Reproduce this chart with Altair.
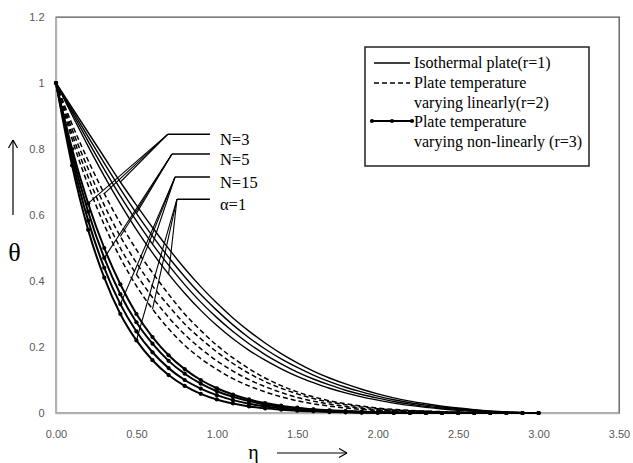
import altair as alt
import pandas as pd

# similarity variable eta
eta = [0.0, 0.1, 0.2, 0.3, 0.4, 0.5, 0.6, 0.7, 0.8, 0.9, 1.0,
       1.1, 1.2, 1.3, 1.4, 1.5, 1.6, 1.7, 1.8, 1.9, 2.0,
       2.1, 2.2, 2.3, 2.4, 2.5, 2.6, 2.7, 2.8, 2.9, 3.0]

case_labels = ["N=3", "N=5", "N=15", "α=1"]

# isothermal plate (r=1)
theta_r1 = [
    [1.0, .925, .85, .775, .70, .63, .562, .498, .438, .383, .333, .288, .248, .212, .18, .152,
     .127, .106, .088, .072, .058, .046, .036, .028, .021, .015, .010, .006, .003, .001, 0.0],
    [1.0, .918, .837, .757, .679, .605, .536, .472, .413, .359, .311, .267, .228, .194, .164, .138,
     .115, .095, .078, .064, .051, .040, .031, .024, .018, .013, .009, .005, .003, .001, 0.0],
    [1.0, .911, .823, .738, .657, .582, .512, .448, .389, .336, .289, .247, .210, .177, .149, .124,
     .103, .085, .069, .056, .045, .035, .027, .020, .015, .011, .007, .004, .002, .001, 0.0],
    [1.0, .903, .808, .718, .634, .556, .485, .421, .363, .311, .265, .225, .190, .160, .134, .111,
     .092, .075, .061, .049, .039, .030, .023, .017, .012, .008, .005, .003, .002, .001, 0.0],
]

# plate temperature varying linearly (r=2)
theta_r2 = [
    [1.0, .875, .765, .665, .575, .495, .425, .36, .30, .25, .205, .167, .134, .106, .083, .064,
     .049, .037, .028, .021, .015, .011, .008, .006, .004, .003, .002, .001, .001, 0.0, 0.0],
    [1.0, .86, .74, .63, .535, .455, .385, .325, .27, .225, .185, .15, .12, .095, .075, .058,
     .044, .033, .025, .018, .013, .009, .007, .005, .003, .002, .001, .001, 0.0, 0.0, 0.0],
    [1.0, .845, .715, .60, .50, .42, .35, .29, .238, .195, .158, .127, .101, .08, .062, .047,
     .036, .027, .02, .014, .01, .007, .005, .004, .003, .002, .001, 0.0, 0.0, 0.0, 0.0],
    [1.0, .83, .69, .57, .47, .385, .315, .255, .205, .165, .132, .104, .082, .064, .049, .037,
     .028, .021, .015, .011, .008, .006, .004, .003, .002, .001, .001, 0.0, 0.0, 0.0, 0.0],
]

# plate temperature varying non-linearly (r=3)
theta_r3 = [
    [1.0, .80, .635, .50, .39, .30, .23, .175, .133, .10, .075, .056, .041, .03, .022, .016,
     .011, .008, .006, .004, .003, .002, .001, .001, 0.0, 0.0, 0.0, 0.0, 0.0, 0.0, 0.0],
    [1.0, .785, .61, .47, .36, .275, .21, .158, .119, .089, .066, .049, .036, .026, .019, .014,
     .010, .007, .005, .003, .002, .001, .001, 0.0, 0.0, 0.0, 0.0, 0.0, 0.0, 0.0, 0.0],
    [1.0, .768, .583, .44, .33, .247, .184, .136, .10, .074, .054, .039, .028, .02, .014, .010,
     .007, .005, .003, .002, .001, .001, 0.0, 0.0, 0.0, 0.0, 0.0, 0.0, 0.0, 0.0, 0.0],
    [1.0, .75, .555, .41, .30, .22, .16, .115, .082, .058, .041, .029, .02, .014, .01, .007,
     .005, .003, .002, .001, .001, 0.0, 0.0, 0.0, 0.0, 0.0, 0.0, 0.0, 0.0, 0.0, 0.0],
]

# label anchors (eta, theta) and the eta index where each leader meets r=1, r=2, r=3 curves
label_anchor_eta = [0.696, 0.721, 0.740, 0.752]
label_anchor_theta = [0.845, 0.785, 0.715, 0.648]
label_end_eta = 0.957
leader_index = [[4, 3, 2], [5, 4, 3], [6, 5, 4], [7, 6, 5]]

x_ticks = [0.0, 0.5, 1.0, 1.5, 2.0, 2.5, 3.0, 3.5]
y_ticks = [0.0, 0.2, 0.4, 0.6, 0.8, 1.0, 1.2]


def long_table(family):
    rows = []
    for k, series in enumerate(family):
        for e, t in zip(eta, series):
            rows.append({"eta": e, "theta": t, "curve": case_labels[k]})
    return pd.DataFrame(rows)


df1 = long_table(theta_r1)
df2 = long_table(theta_r2)
df3 = long_table(theta_r3)

leader_rows, hline_rows = [], []
for k in range(4):
    ax, ay = label_anchor_eta[k], label_anchor_theta[k]
    hline_rows.append({"x": ax, "x2": label_end_eta, "y": ay, "label": case_labels[k]})
    for fam, idx in zip([theta_r1, theta_r2, theta_r3], leader_index[k]):
        leader_rows.append({"x": ax, "y": ay, "x2": eta[idx], "y2": fam[k][idx]})
leaders = pd.DataFrame(leader_rows)
hlines = pd.DataFrame(hline_rows)

X = alt.X("eta:Q", scale=alt.Scale(domain=[0, 3.5], nice=False, zero=False),
          axis=alt.Axis(values=x_ticks, format=".2f", title="η", grid=False, ticks=False,
                        labelFlush=False, labelPadding=15, titleX=197, titleY=39,
                        titleAlign="center", titleBaseline="middle",
                        titleFont="Liberation Serif", titleFontSize=20,
                        titleFontWeight="normal", titleColor="black"))
Y = alt.Y("theta:Q", scale=alt.Scale(domain=[0, 1.2], nice=False),
          axis=alt.Axis(values=y_ticks, format="~g", title="θ", grid=False, ticks=False,
                        labelFlush=False, labelPadding=12, titleAngle=0, titleX=-42,
                        titleY=235, titleAlign="center", titleBaseline="middle",
                        titleFont="Liberation Serif", titleFontSize=26,
                        titleFontWeight="normal", titleColor="black"))

iso = alt.Chart(df1).mark_line(color="black", strokeWidth=1.4, interpolate="monotone").encode(
    x=X, y=Y, detail="curve:N")
lin = alt.Chart(df2).mark_line(color="black", strokeWidth=1.5, strokeDash=[5, 3],
                               interpolate="monotone").encode(x="eta:Q", y="theta:Q", detail="curve:N")
nonlin = alt.Chart(df3).mark_line(color="black", strokeWidth=2, interpolate="monotone").encode(
    x="eta:Q", y="theta:Q", detail="curve:N")
nonlin_pts = alt.Chart(df3).mark_circle(color="black", size=18, opacity=1).encode(
    x="eta:Q", y="theta:Q")

leader_layer = alt.Chart(leaders).mark_rule(color="black", strokeWidth=1.1).encode(
    x="x:Q", y="y:Q", x2="x2:Q", y2="y2:Q")
hline_layer = alt.Chart(hlines).mark_rule(color="black", strokeWidth=1.5).encode(
    x="x:Q", x2="x2:Q", y="y:Q")
label_layer = alt.Chart(hlines).mark_text(align="left", baseline="top", dx=10, dy=-2,
                                          font="Liberation Serif", fontSize=16.5,
                                          color="black").encode(
    x="x2:Q", y="y:Q", text="label:N")

one = pd.DataFrame({"k": [0]})


def rule(x, y, x2=None, y2=None, width=1.2, dash=None):
    enc = {"x": alt.value(x), "y": alt.value(y)}
    if x2 is not None:
        enc["x2"] = alt.value(x2)
    if y2 is not None:
        enc["y2"] = alt.value(y2)
    kw = {"color": "black", "strokeWidth": width}
    if dash:
        kw["strokeDash"] = dash
    return alt.Chart(one).mark_rule(**kw).encode(**enc)


def text(x, y, s, size=16):
    return alt.Chart(one).mark_text(align="left", baseline="middle", font="Liberation Serif",
                                    fontSize=size, color="black").encode(
        x=alt.value(x), y=alt.value(y), text=alt.value(s))


# legend box
legend_box = alt.Chart(one).mark_rect(fill="white", stroke="#222222", strokeWidth=1.5).encode(
    x=alt.value(309), x2=alt.value(533), y=alt.value(30), y2=alt.value(149))
legend_layers = [
    legend_box,
    rule(318, 46, x2=354, width=1.4),
    rule(318, 66, x2=354, width=1.5, dash=[5, 3]),
    rule(316, 104, x2=356, width=2),
    text(358, 46, "Isothermal plate(r=1)"),
    text(358, 66, "Plate temperature"),
    text(358, 86, "varying linearly(r=2)"),
    text(358, 105, "Plate temperature"),
    text(358, 125, "varying non-linearly (r=3)"),
]
for px in [316, 336, 356]:
    legend_layers.append(alt.Chart(one).mark_circle(color="black", size=18, opacity=1).encode(
        x=alt.value(px), y=alt.value(104)))

# direction arrows beside the axis titles
arrow_layers = [
    rule(-43, 198, y2=123, width=1.2),
    rule(-43, 123, x2=-47.5, y2=131, width=1.2),
    rule(-43, 123, x2=-38.5, y2=131, width=1.2),
    rule(221, 436, x2=291, width=1.2),
    rule(291, 436, x2=283, y2=431.5, width=1.2),
    rule(291, 436, x2=283, y2=440.5, width=1.2),
]

chart = alt.layer(
    iso, lin, nonlin, nonlin_pts, leader_layer, hline_layer, label_layer,
    *legend_layers, *arrow_layers
).properties(
    width=563, height=396,
    autosize=alt.AutoSizeParams(type="none"),
    padding={"left": 56, "top": 17, "right": 14, "bottom": 50},
    background="white",
).configure_view(
    stroke="#555555", strokeWidth=1.3
).configure_axis(
    domainColor="#b3b3b3", domainWidth=1.3, labelColor="#595959",
    labelFont="Liberation Sans", labelFontSize=11
)

chart.save("out.html", embed_options={"renderer": "svg", "actions": False})
